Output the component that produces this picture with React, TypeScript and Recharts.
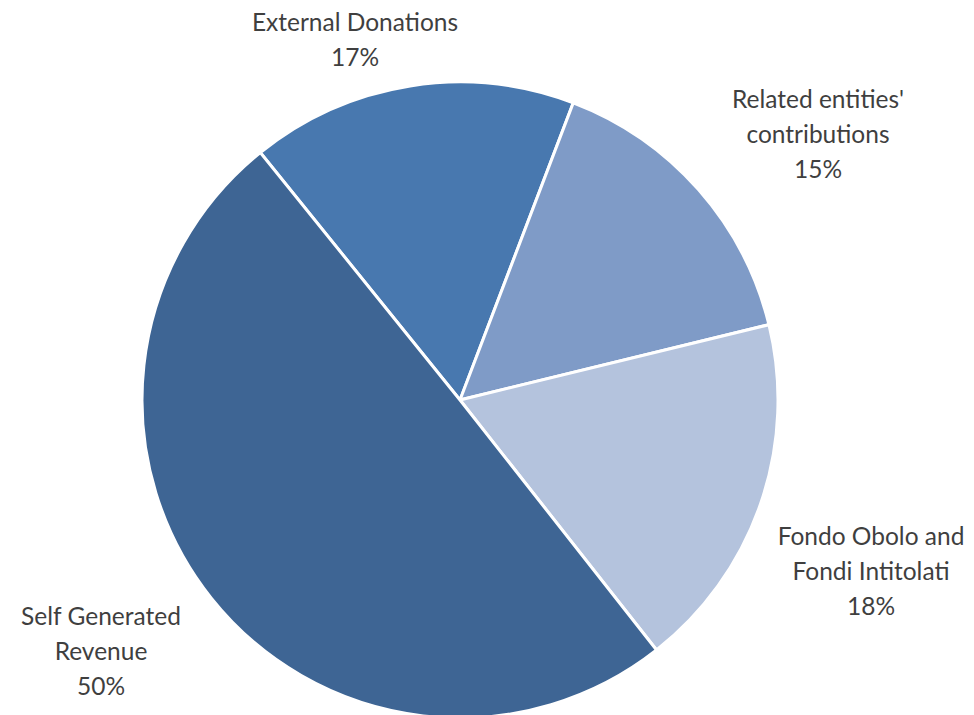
import { Cell, Pie, PieChart } from "recharts";

const categories = [
  "External Donations",
  "Related entities'\ncontributions",
  "Fondo Obolo and\nFondi Intitolati",
  "Self Generated\nRevenue",
];
const shares = [16.6, 15.4, 18.2, 49.8];
const colors = ["#4878AF", "#7F9BC7", "#B4C3DD", "#3E6594"];

// where each label's first baseline sits, relative to the pie centre
const labelOffsets = [
  { dx: -105, dy: -369 },
  { dx: 358, dy: -292 },
  { dx: 411, dy: 145 },
  { dx: -359, dy: 225 },
];

const data = categories.map((name, i) => ({ name, value: shares[i] }));

const LINE = 35;

function renderLabel(props: any) {
  const { cx, cy, index, value } = props;
  const off = labelOffsets[index];
  const lines = [...String(categories[index]).split("\n"), `${Math.round(value)}%`];
  return (
    <text
      x={cx + off.dx}
      y={cy + off.dy}
      textAnchor="middle"
      fill="#3f3f3f"
      fontSize={24.5}
      fontFamily="Lato, 'Open Sans', sans-serif"
    >
      {lines.map((l, i) => (
        <tspan key={i} x={cx + off.dx} dy={i === 0 ? 0 : LINE}>
          {l}
        </tspan>
      ))}
    </text>
  );
}

export default function App() {
  return (
    <PieChart width={966} height={707} margin={{ top: 0, right: 0, bottom: 0, left: 0 }}>
      <Pie
        data={data}
        dataKey="value"
        nameKey="name"
        cx={452}
        cy={392}
        outerRadius={318}
        startAngle={128.9}
        endAngle={128.9 - 360}
        stroke="#ffffff"
        strokeWidth={3}
        label={renderLabel}
        labelLine={false}
        isAnimationActive={false}
      >
        {data.map((d, i) => (
          <Cell key={d.name} fill={colors[i]} />
        ))}
      </Pie>
    </PieChart>
  );
}
